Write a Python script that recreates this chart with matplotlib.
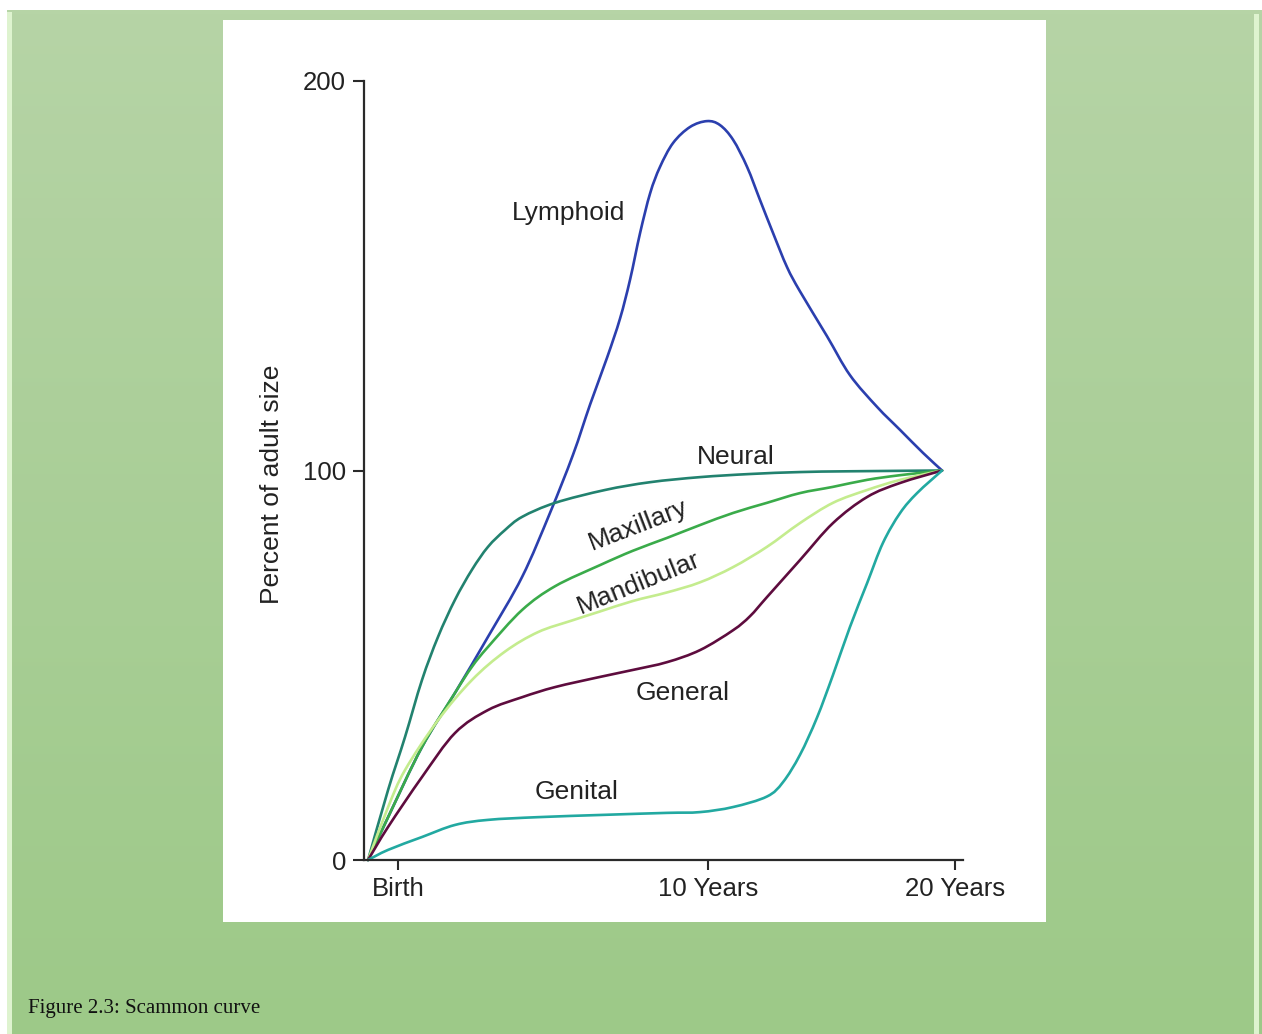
import numpy as np
import matplotlib
matplotlib.use("Agg")
import matplotlib.pyplot as plt
from matplotlib.patches import Rectangle, PathPatch
from matplotlib.path import Path

# ---------------------------------------------------------------------------
# Data (x runs from birth (0) to adulthood (20))
# ---------------------------------------------------------------------------
lymphoid_x = [0, 0.70, 1.88, 3.03, 4.18, 5.37, 6.34, 7.14, 7.74, 8.33, 8.78, 9.13,
              9.48, 9.83, 10.17, 10.63, 11.22, 11.81, 12.26, 12.72, 13.21, 13.66,
              14.11, 14.60, 15.05, 15.99, 16.79, 17.74, 18.54, 19.34, 20]
lymphoid_y = [0, 11.0, 29.0, 42.9, 57.3, 72.7, 89.1, 104.0, 117.0, 129.0, 139.0, 149.0,
              161.0, 171.2, 177.9, 184.1, 188.2, 189.7, 188.7, 184.9, 177.9, 169.4,
              161.0, 152.2, 146.0, 134.5, 124.5, 116.3, 110.4, 104.5, 100]

neural_x = [0, 0.70, 1.29, 1.88, 2.44, 3.03, 3.62, 4.18, 4.77, 5.37, 6.52, 8.26,
            9.83, 11.57, 13.31, 15.05, 16.79, 20]
neural_y = [0, 18.0, 31.6, 46.2, 57.3, 66.8, 74.5, 80.4, 84.7, 88.1, 91.7, 95.0,
            97.0, 98.3, 99.1, 99.6, 99.8, 100]

maxillary_x = [0, 0.70, 1.88, 3.03, 3.62, 4.18, 5.37, 6.52, 8.08, 9.23, 10.42, 11.57,
               12.72, 13.90, 15.05, 16.20, 17.39, 18.54, 20]
maxillary_y = [0, 11.0, 29.0, 42.9, 49.6, 54.7, 64.2, 70.3, 75.7, 79.4, 82.7, 86.0,
               89.1, 91.7, 94.2, 95.8, 97.6, 98.8, 100]

mandibular_x = [0, 0.70, 1.29, 2.44, 3.62, 4.77, 5.92, 7.11, 8.08, 9.23, 10.42, 11.57,
                12.72, 13.90, 15.05, 16.20, 17.39, 18.54, 20]
mandibular_y = [0, 13.6, 23.1, 35.9, 46.2, 53.5, 58.5, 61.5, 63.8, 66.5, 68.7, 71.3,
                75.2, 80.4, 86.5, 91.7, 95.0, 97.6, 100]

general_x = [0, 0.70, 1.88, 3.03, 4.18, 5.37, 6.52, 8.08, 9.23, 10.42, 11.57, 12.72,
             13.31, 13.90, 15.05, 16.20, 17.39, 18.54, 20]
general_y = [0, 8.5, 21.3, 32.6, 38.5, 41.8, 44.4, 47.0, 48.8, 50.8, 53.9, 59.0,
             62.6, 67.5, 77.0, 86.5, 93.2, 96.8, 100]

genital_x = [0, 0.70, 1.88, 3.03, 4.18, 5.92, 8.26, 10.42, 11.57, 12.72, 13.90, 14.46,
             15.05, 15.64, 16.20, 16.79, 17.39, 17.94, 18.54, 19.13, 20]
genital_y = [0, 2.6, 5.9, 9.0, 10.3, 11.0, 11.6, 12.1, 12.3, 13.6, 16.3, 20.0,
             27.0, 36.5, 47.5, 59.8, 71.1, 81.4, 89.1, 94.2, 100]

ytick_vals = [0, 100, 200]
ytick_labels = ["0", "100", "200"]
xtick_vals = [1.05, 11.85, 20.45]
xtick_labels = ["Birth", "10 Years", "20 Years"]


def smooth_path(xs, ys):
    """Catmull-Rom through the points, as cubic Bezier segments."""
    pts = np.column_stack([xs, ys]).astype(float)
    ext = np.vstack([pts[0], pts, pts[-1]])
    verts = [pts[0]]
    codes = [Path.MOVETO]
    for i in range(1, len(ext) - 2):
        p0, p1, p2, p3 = ext[i - 1], ext[i], ext[i + 1], ext[i + 2]
        verts += [p1 + (p2 - p0) / 6, p2 - (p3 - p1) / 6, p2]
        codes += [Path.CURVE4] * 3
    return Path(verts, codes)


# ---------------------------------------------------------------------------
# Figure + green page background
# ---------------------------------------------------------------------------
W, H = 1262, 1034
fig = plt.figure(figsize=(W / 100, H / 100), dpi=100, facecolor="white")

bg = fig.add_axes([7 / W, 0, (W - 7) / W, (H - 10) / H])
bg.set_zorder(-5)
top_col = np.array([0xb6, 0xd4, 0xa6]) / 255
bot_col = np.array([0x9d, 0xc9, 0x88]) / 255
t = np.linspace(0, 1, 256)[:, None]
grad = (top_col * (1 - t) + bot_col * t)[:, None, :]
bg.imshow(grad, aspect="auto", extent=[0, 1, 0, 1])
bg.set_axis_off()

# bevelled light edges
fig.patches.append(Rectangle((7 / W, 0), 5 / W, (H - 12) / H, transform=fig.transFigure,
                             facecolor="#def3cf", edgecolor="none", zorder=-1))
fig.patches.append(Rectangle((1254 / W, 0), 5 / W, (H - 14) / H, transform=fig.transFigure,
                             facecolor="#def3cf", edgecolor="none", zorder=-1))

# white picture panel
fig.patches.append(Rectangle((223 / W, (H - 922) / H), (1046 - 223) / W, (922 - 20) / H,
                             transform=fig.transFigure, facecolor="white", edgecolor="none",
                             zorder=-1))

# ---------------------------------------------------------------------------
# Chart axes
# ---------------------------------------------------------------------------
ax = fig.add_axes([364 / W, (H - 860) / H, (963 - 364) / W, (860 - 81) / H])
ax.set_zorder(5)
ax.set_facecolor("none")
ax.set_xlim(-0.14, 20.73)
ax.set_ylim(0, 200)

series = [
    (lymphoid_x, lymphoid_y, "#2b3fae"),
    (neural_x, neural_y, "#22826f"),
    (maxillary_x, maxillary_y, "#3aab4a"),
    (mandibular_x, mandibular_y, "#c4ec8e"),
    (general_x, general_y, "#5e0c3e"),
    (genital_x, genital_y, "#22a9a1"),
]
for xs, ys, col in series:
    ax.add_patch(PathPatch(smooth_path(xs, ys), fill=False, edgecolor=col, lw=1.9,
                           joinstyle="round", capstyle="round", clip_on=False))

for side in ["top", "right"]:
    ax.spines[side].set_visible(False)
for side in ["left", "bottom"]:
    ax.spines[side].set_color("#2a2a2a")
    ax.spines[side].set_linewidth(1.6)

font = "Liberation Sans"
ax.set_yticks(ytick_vals)
ax.set_yticklabels(ytick_labels, fontsize=18.5, family=font, color="#222222")
ax.set_xticks(xtick_vals)
ax.set_xticklabels(xtick_labels, fontsize=18.5, family=font, color="#222222")
ax.tick_params(axis="y", direction="out", length=8, width=1.5, pad=5, color="#2a2a2a")
ax.tick_params(axis="x", direction="out", length=7, width=1.5, pad=5, color="#2a2a2a")

fig.text(272 / W, 1 - 484 / H, "Percent of adult size", rotation=90, ha="center",
         va="center", fontsize=19, family=font, color="#222222")

# curve labels
label_kw = dict(fontsize=19, family=font, color="#222222", ha="center", va="center")
ax.text(7.0, 166, "Lymphoid", **label_kw)
ax.text(12.8, 103.5, "Neural", **label_kw)
ax.text(9.4, 86, "Maxillary", rotation=21, rotation_mode="anchor", **label_kw)
ax.text(9.45, 71, "Mandibular", rotation=22, rotation_mode="anchor", **label_kw)
ax.text(10.95, 43, "General", **label_kw)
ax.text(7.25, 17.5, "Genital", **label_kw)

# caption
fig.text(28 / W, 1 - 1008 / H, "Figure 2.3: Scammon curve", ha="left", va="center",
         fontsize=15, family="Liberation Serif", color="#111111")

fig.savefig("out.png", dpi=100, facecolor=fig.get_facecolor())
